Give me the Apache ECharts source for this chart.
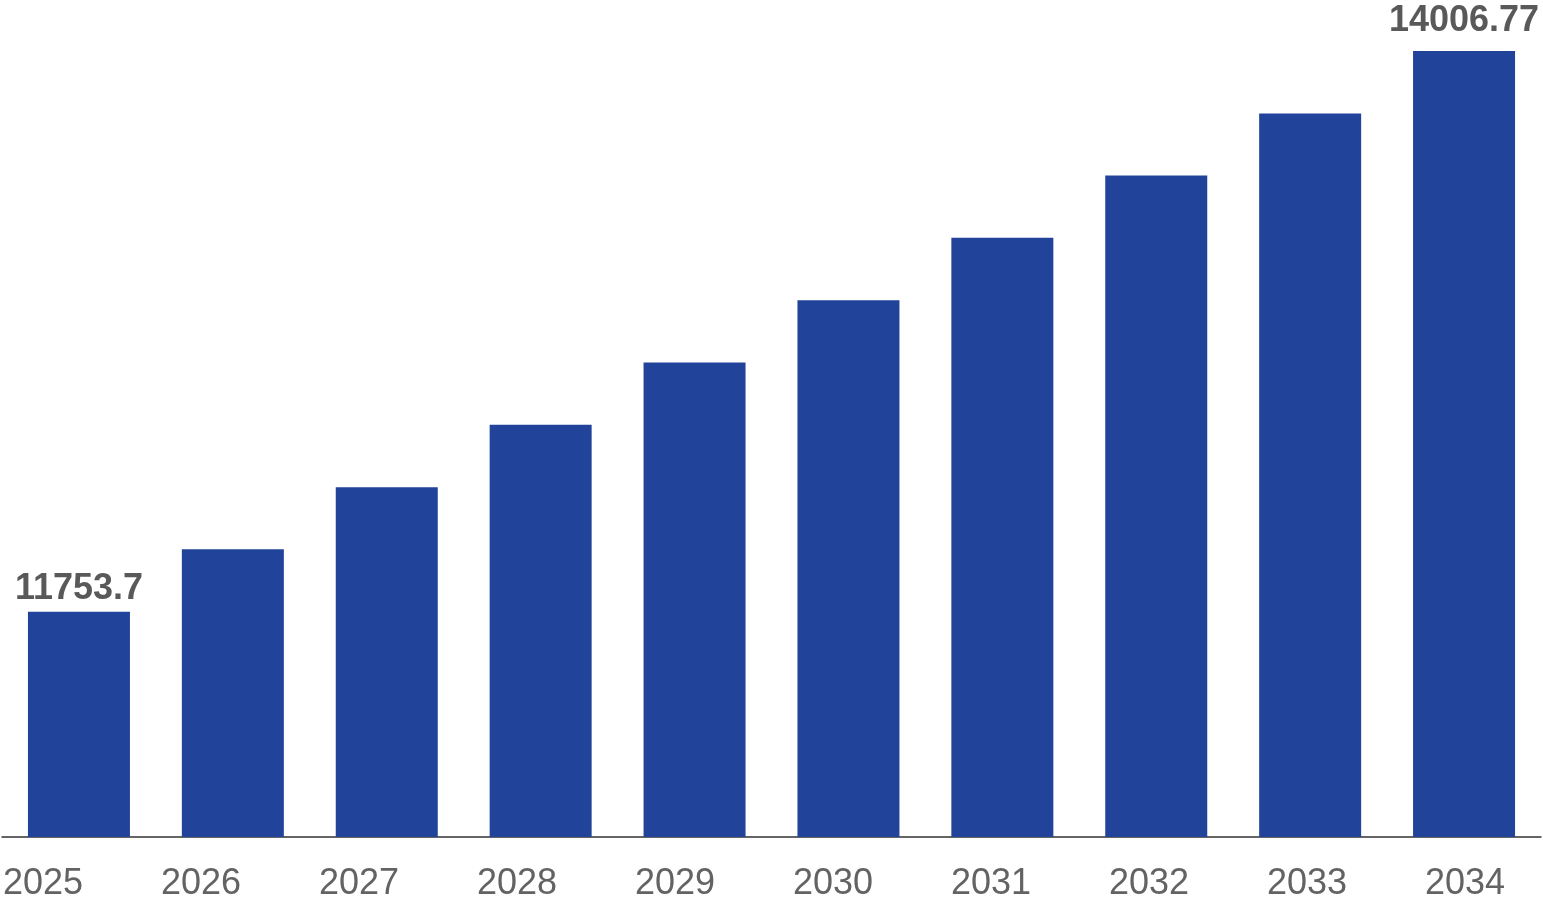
<!DOCTYPE html>
<html>
<head>
<meta charset="utf-8">
<script src="https://cdn.jsdelivr.net/npm/echarts@6/dist/echarts.min.js"></script>
<style>
html,body{margin:0;padding:0;background:#fff;}
#chart{width:1543px;height:909px;}
</style>
</head>
<body>
<div id="chart"></div>
<script>
var years = ['2025','2026','2027','2028','2029','2030','2031','2032','2033','2034'];
var values = [11753.7, 12004, 12254, 12505, 12755, 13005, 13256, 13506, 13756, 14006.77];
var labelValues = ['11753.7', '', '', '', '', '', '', '', '', '14006.77'];

var labelDist = [5, 0, 0, 0, 0, 0, 0, 0, 0, 12];
var seriesData = values.map(function (v, i) {
  var item = { value: v };
  if (labelValues[i]) {
    item.label = { show: true, distance: labelDist[i], formatter: labelValues[i] };
  }
  return item;
});

var chart = echarts.init(document.getElementById('chart'));
chart.setOption({
  animation: false,
  backgroundColor: '#ffffff',
  grid: [
    { left: 2, right: 2, top: 51, bottom: 72, containLabel: false },
    { left: 41, right: 78, top: 51, bottom: 72, containLabel: false }
  ],
  xAxis: [
    {
      type: 'category', gridIndex: 0, data: years,
      axisLine: { show: true, lineStyle: { color: '#333', width: 1.5 } },
      axisTick: { show: false },
      axisLabel: { show: false }
    },
    {
      type: 'category', gridIndex: 1, data: years, boundaryGap: false,
      axisLine: { show: false },
      axisTick: { show: false },
      axisLabel: {
        show: true, margin: 29, color: '#636363', interval: 0,
        fontFamily: 'Liberation Sans, Arial, sans-serif', fontSize: 36
      }
    }
  ],
  yAxis: [
    { type: 'value', gridIndex: 0, min: 10848, max: 14006.77, show: false, splitLine: { show: false } },
    { type: 'value', gridIndex: 1, min: 0, max: 1, show: false, splitLine: { show: false } }
  ],
  series: [
    {
      type: 'bar', xAxisIndex: 0, yAxisIndex: 0,
      data: seriesData,
      barWidth: 102,
      itemStyle: { color: '#21449a' },
      label: {
        show: false, position: 'top', color: '#595959',
        fontFamily: 'Liberation Sans, Arial, sans-serif', fontSize: 36, fontWeight: 'bold'
      }
    }
  ]
});
</script>
</body>
</html>
